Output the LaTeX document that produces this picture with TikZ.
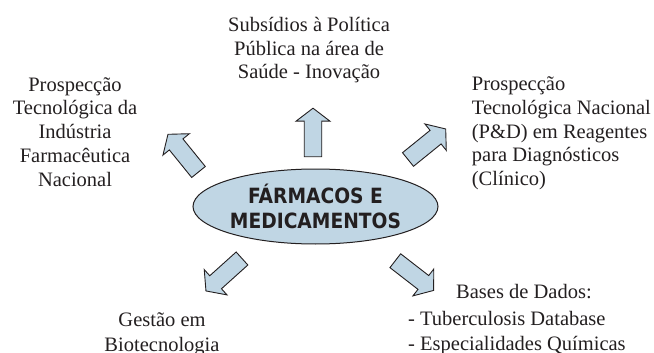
\documentclass[tikz,border=0pt]{standalone}
\usepackage{fontspec}
\setmainfont{Liberation Serif}
\newfontfamily\boxfont[FakeStretch=0.89]{DejaVu Sans Bold}
\usetikzlibrary{shapes.geometric}
\definecolor{pale}{RGB}{192,214,228}
\definecolor{ink}{RGB}{35,31,32}
\tikzset{
  label text/.style={font=\fontsize{20.5}{23.7}\selectfont, text=ink, inner sep=0pt},
  arrowstyle/.style={draw=ink, fill=pale, line width=0.9pt, line join=miter},
  fatarrow/.pic={\path[arrowstyle] (0,-8.75) -- (35.5,-8.75) -- (35.5,-17) -- (48.5,0) -- (35.5,17) -- (35.5,8.75) -- (0,8.75) -- cycle;}
}
\begin{document}
\begin{tikzpicture}[x=1pt,y=1pt]
\useasboundingbox (0,0) rectangle (654,-353);
% central ellipse
\node (core) [ellipse, draw=ink, fill=pale, line width=1pt, minimum width=245pt, minimum height=75pt, inner sep=0pt, outer sep=0pt, align=center, text=ink, font=\boxfont\fontsize{21}{25}\selectfont] at (315.5,-206.5) {FÁRMACOS E\\MEDICAMENTOS};
% labels (base anchor = baseline of the last line)
\node (top) [label text, align=center, anchor=base] at (309,-79) {Subsídios à Política\\Pública na área de\\Saúde - Inovação};
\node (left) [label text, align=center, anchor=base] at (75,-186) {Prospecção\\Tecnológica da\\Indústria\\Farmacêutica\\Nacional};
\node (right) [label text, align=left, anchor=base west] at (471.7,-185.5) {Prospecção\\Tecnológica Nacional\\(P\&D) em Reagentes\\para Diagnósticos\\(Clínico)};
\node (bases) [label text, anchor=base west] at (456,-298) {Bases de Dados:};
\node (db) [label text, align=left, anchor=base west, font=\fontsize{20.5}{25}\selectfont] at (408,-350) {- Tuberculosis Database\\- Especialidades Químicas};
\node (gestao) [label text, align=center, anchor=base, font=\fontsize{20.5}{25}\selectfont] at (162,-351.7) {Gestão em\\Biotecnologia};
% arrows
\coordinate (aup) at (313,-156.7);
\coordinate (aul) at (198.5,-172);
\coordinate (aur) at (408,-159.5);
\coordinate (all) at (242,-258.5);
\coordinate (alr) at (395.3,-260.7);
\pic[rotate=90] at (aup) {fatarrow};
\pic[rotate=129] at (aul) {fatarrow};
\pic[rotate=39] at (aur) {fatarrow};
\pic[rotate=222] at (all) {fatarrow};
\pic[rotate=-37.8] at (alr) {fatarrow};
\end{tikzpicture}
\end{document}
